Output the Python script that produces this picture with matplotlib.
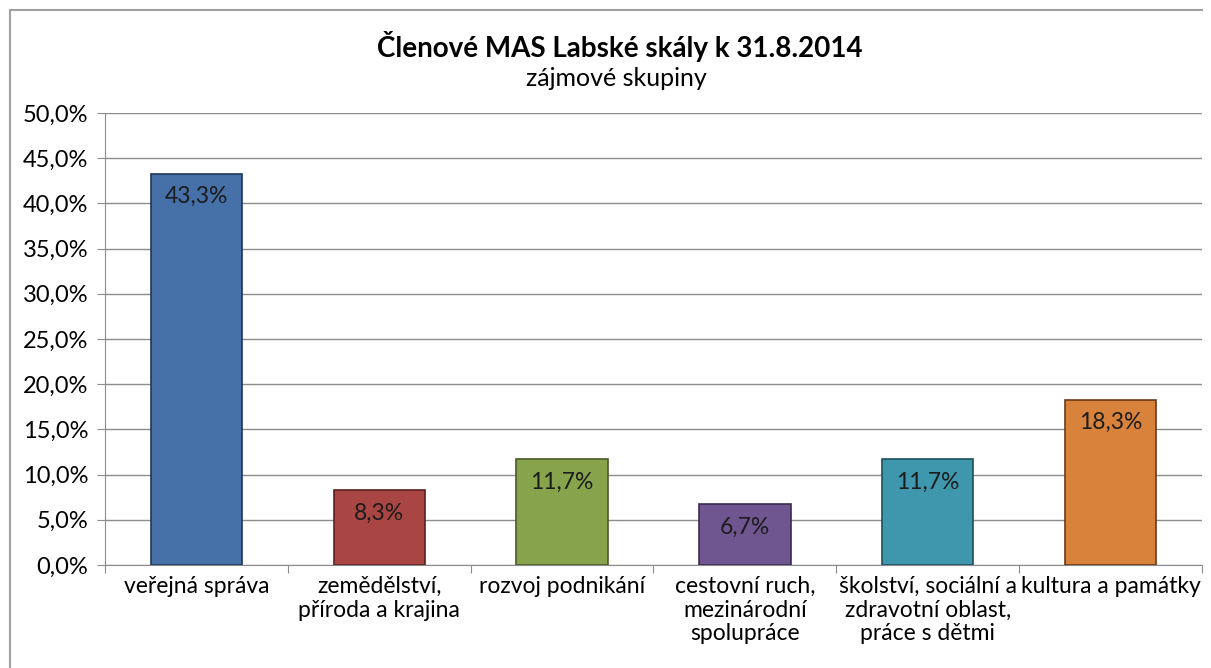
import matplotlib.pyplot as plt
import numpy as np
from matplotlib.lines import Line2D

categories = ['veřejná správa', 'zemědělství,\npříroda a krajina', 'rozvoj podnikání',
              'cestovní ruch,\nmezinárodní\nspolupráce',
              'školství, sociální a\nzdravotní oblast,\npráce s dětmi',
              'kultura a památky']
values = [43.3, 8.3, 11.7, 6.7, 11.7, 18.3]
colors = ['#4570A8', '#A94542', '#87A44C', '#6F5690', '#3F97AD', '#D9823B']
edges = ['#1F3556', '#5A2120', '#4A5A28', '#3A2C50', '#1F5060', '#6A3A18']
yticks = np.arange(0, 50.1, 5)

plt.rcParams['font.family'] = ['Lato', 'DejaVu Sans']

fig = plt.figure(figsize=(12.11, 6.68), dpi=100)
W, H = 1211, 668
ax = fig.add_axes([105 / W, 1 - 565 / H, (1202 - 105) / W, (565 - 113) / H])

x = np.arange(len(categories))
ax.bar(x, values, width=0.5, color=colors, edgecolor=edges, linewidth=1.2, zorder=3)
for xi, v in zip(x, values):
    ax.text(xi, v - 1.4, f'{v:.1f}%'.replace('.', ','), ha='center', va='top',
            fontsize=16.5, color='#1c1c1c', zorder=4)

ax.set_xlim(-0.5, len(categories) - 0.5)
ax.set_ylim(0, 50)
ax.set_yticks(yticks)
ax.set_yticklabels([f'{t:.1f}%'.replace('.', ',') for t in yticks], fontsize=17)
ax.yaxis.grid(True, color='#8c8c8c', linewidth=1, zorder=0)
ax.set_xticks(np.arange(-0.5, len(categories), 1))
ax.set_xticklabels([])
ax.set_xticks(x, minor=True)
ax.set_xticklabels(categories, minor=True, fontsize=16.5, linespacing=1.15)
ax.tick_params(axis='x', which='minor', length=0, pad=8)
ax.tick_params(axis='x', which='major', length=6, color='#8c8c8c', direction='out')
ax.tick_params(axis='y', length=6, color='#8c8c8c', pad=6)
for s in ['top', 'right']:
    ax.spines[s].set_visible(False)
for s in ['left', 'bottom']:
    ax.spines[s].set_color('#8c8c8c')

fig.text(620 / W, 1 - 46 / H, 'Členové MAS Labské skály k 31.8.2014', ha='center', va='center',
         fontsize=20, fontweight='bold')
fig.text(616 / W, 1 - 78 / H, 'zájmové skupiny', ha='center', va='center', fontsize=18)

fig.add_artist(Line2D([10 / W, 10 / W], [0, 1 - 10 / H], color='#a0a0a0', linewidth=1.5,
                      transform=fig.transFigure))
fig.add_artist(Line2D([10 / W, 1202 / W], [1 - 10 / H, 1 - 10 / H], color='#a0a0a0',
                      linewidth=1.5, transform=fig.transFigure))

fig.savefig('out.png', dpi=100)
